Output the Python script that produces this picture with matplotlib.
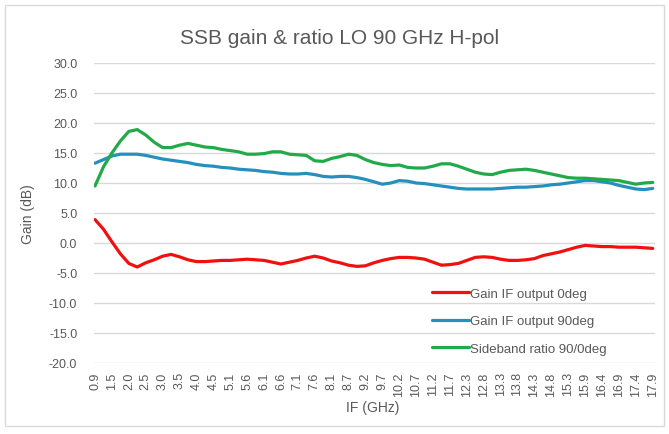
import matplotlib
matplotlib.use("Agg")
import matplotlib.pyplot as plt
from matplotlib.patches import Rectangle

# x-axis category labels (every second data point is labelled)
tick_labels = ["0.9", "1.5", "2.0", "2.5", "3.0", "3.5", "4.0", "4.5", "5.1", "5.6",
               "6.1", "6.6", "7.1", "7.6", "8.1", "8.7", "9.2", "9.7", "10.2", "10.7",
               "11.2", "11.7", "12.3", "12.8", "13.3", "13.8", "14.3", "14.8", "15.3",
               "15.9", "16.4", "16.9", "17.4", "17.9"]

gain_0deg = [3.9, 2.3, 0.2, -1.8, -3.4, -4.0, -3.3, -2.8, -2.2, -1.9, -2.3, -2.8, -3.1, -3.1,
             -3.0, -2.9, -2.9, -2.8, -2.7, -2.8, -2.9, -3.2, -3.5, -3.2, -2.9, -2.5, -2.2,
             -2.5, -3.0, -3.3, -3.7, -3.9, -3.8, -3.3, -2.9, -2.6, -2.4, -2.4, -2.5, -2.7,
             -3.2, -3.7, -3.6, -3.4, -2.9, -2.4, -2.3, -2.4, -2.7, -2.9, -2.9, -2.8, -2.6,
             -2.1, -1.8, -1.5, -1.1, -0.7, -0.4, -0.5, -0.6, -0.6, -0.7, -0.7, -0.7, -0.8, -0.9]

gain_90deg = [13.3, 13.9, 14.5, 14.8, 14.8, 14.8, 14.6, 14.3, 14.0, 13.8, 13.6, 13.4, 13.1,
              12.9, 12.8, 12.6, 12.5, 12.3, 12.2, 12.1, 11.9, 11.8, 11.6, 11.5, 11.5, 11.6,
              11.4, 11.1, 11.0, 11.1, 11.1, 10.9, 10.6, 10.2, 9.8, 10.0, 10.4, 10.3, 10.0,
              9.9, 9.7, 9.5, 9.3, 9.1, 9.0, 9.0, 9.0, 9.0, 9.1, 9.2, 9.3, 9.3, 9.4, 9.5,
              9.7, 9.8, 10.0, 10.2, 10.4, 10.4, 10.2, 10.0, 9.6, 9.3, 9.0, 8.9, 9.1]

sideband_ratio = [9.5, 12.7, 15.0, 17.0, 18.6, 18.9, 18.0, 16.8, 15.9, 15.9, 16.3, 16.6, 16.3,
                  16.0, 15.9, 15.6, 15.4, 15.2, 14.8, 14.8, 14.9, 15.2, 15.2, 14.8, 14.7,
                  14.6, 13.7, 13.6, 14.1, 14.4, 14.8, 14.6, 13.9, 13.4, 13.1, 12.9, 13.0,
                  12.6, 12.5, 12.5, 12.8, 13.2, 13.2, 12.8, 12.3, 11.8, 11.5, 11.4, 11.8,
                  12.1, 12.2, 12.3, 12.1, 11.8, 11.5, 11.2, 10.9, 10.8, 10.8, 10.7, 10.6,
                  10.5, 10.4, 10.1, 9.8, 10.0, 10.1]

series_names = ["Gain IF output 0deg", "Gain IF output 90deg", "Sideband ratio 90/0deg"]
colors = ["#f01010", "#2590bd", "#22aa4a"]

plt.rcParams['font.family'] = ['Liberation Sans', 'DejaVu Sans']

W, H = 669, 435
fig = plt.figure(figsize=(W / 100, H / 100), dpi=100)
fig.patch.set_facecolor("white")
fig.add_artist(Rectangle((5 / W, 8 / H), 659 / W, 421 / H, transform=fig.transFigure,
                         fill=False, edgecolor="#d9d9d9", linewidth=1))

ax = fig.add_axes([94 / W, (H - 364) / H, 561 / W, 300 / H])
n = len(gain_0deg)
xs = list(range(n))
for vals, name, c in zip([gain_0deg, gain_90deg, sideband_ratio], series_names, colors):
    ax.plot(xs, vals, color=c, linewidth=2.3, label=name, solid_capstyle="round")

ax.set_xlim(-0.12, n - 1 + 0.27)
ax.set_ylim(-20, 30)
ax.set_yticks(range(-20, 31, 5))
ax.set_yticklabels([f"{v:.1f}" for v in range(-20, 31, 5)])
ax.set_xticks(list(range(0, n, 2)))
ax.set_xticklabels(tick_labels, rotation=90)
ax.tick_params(axis="both", length=0, colors="#595959", labelsize=9)
ax.tick_params(axis="x", pad=6)
ax.tick_params(axis="y", pad=12)
ax.grid(axis="y", color="#d9d9d9", linewidth=1)
ax.set_axisbelow(True)
for s in ax.spines.values():
    s.set_visible(False)

fig.text(373 / W, 1 - 408 / H, "IF (GHz)", ha="center", va="center", fontsize=10, color="#595959")
fig.text(28 / W, 1 - 214 / H, "Gain (dB)", ha="center", va="center", rotation=90,
         fontsize=10, color="#595959")
fig.text(340 / W, 1 - 38 / H, "SSB gain & ratio LO 90 GHz H-pol", ha="center", va="center",
         fontsize=15, color="#595959")

leg = ax.legend(loc="upper left", bbox_to_anchor=(425 / W, 1 - 282 / H),
                bbox_transform=fig.transFigure, frameon=False, fontsize=9.5,
                handlelength=2.8, handletextpad=0.1, labelspacing=1.15, borderpad=0)
for t in leg.get_texts():
    t.set_color("#595959")

fig.savefig("out.png", dpi=100)
